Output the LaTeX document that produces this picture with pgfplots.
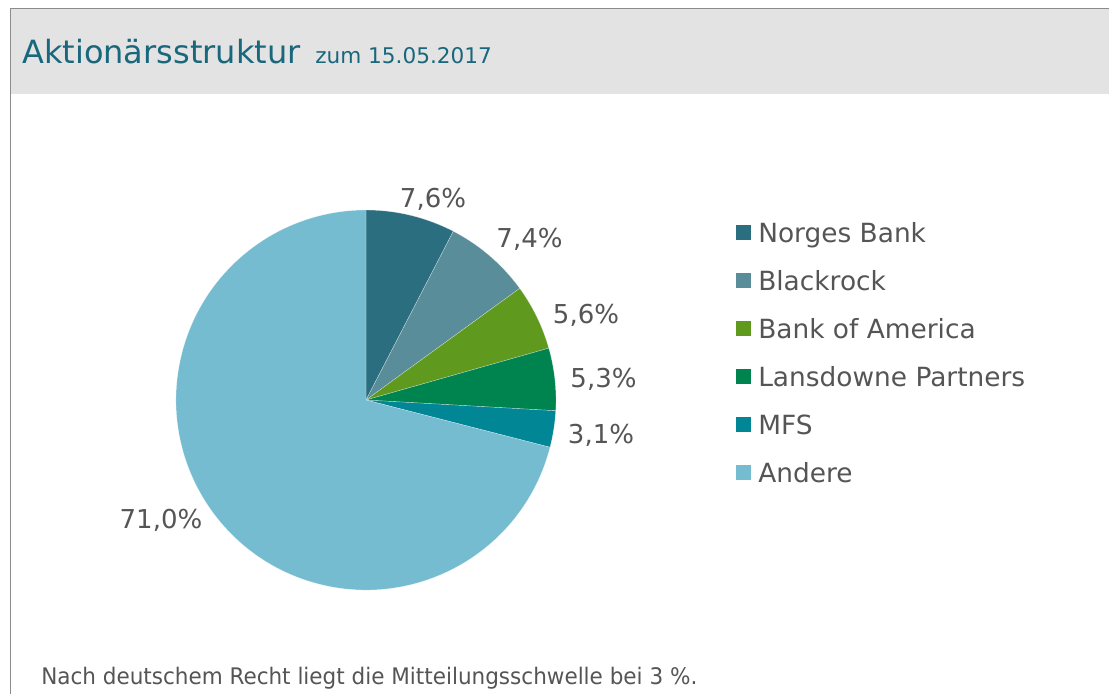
\documentclass[border=0pt]{standalone}
\usepackage{pgfplots}
\pgfplotsset{compat=1.18}
\usepackage{pgfplotstable}
\usepackage{graphicx}
\usepackage{fontspec}
\setmainfont{DejaVu Sans}
\newfontfamily\condfont{DejaVu Sans Condensed}
\definecolor{c0}{RGB}{43,110,128}
\definecolor{c1}{RGB}{90,141,154}
\definecolor{c2}{RGB}{95,154,31}
\definecolor{c3}{RGB}{0,132,79}
\definecolor{c4}{RGB}{0,134,148}
\definecolor{c5}{RGB}{117,188,209}
\definecolor{txt}{RGB}{85,85,85}
\definecolor{ttl}{RGB}{25,103,124}
\definecolor{hdr}{RGB}{227,227,227}
\definecolor{brd}{RGB}{140,140,140}
\pgfkeys{/pgf/number format/.cd, use comma, fixed, fixed zerofill, precision=1, assume math mode=true}
\pgfplotstableread[col sep=semicolon]{
name;value;lx;ly
Norges Bank;7.6;433;207
Blackrock;7.4;529.5;247
Bank of America;5.6;586;323
Lansdowne Partners;5.3;603.5;387
MFS;3.1;601;443
Andere;71.0;161;528
}\shares
\begin{document}
\begin{tikzpicture}
\begin{axis}[
  scale only axis, width=831.75pt, height=520.5pt,
  xmin=0, xmax=1109, ymin=0, ymax=694, y dir=reverse,
  axis lines=none, clip=false]
\path[use as bounding box] (axis cs:0,0) rectangle (axis cs:1109,694);
% frame and header
\fill[hdr] (axis cs:10.5,9) rectangle (axis cs:1109,94);
\draw[brd, line width=1pt] (axis cs:10.5,694) -- (axis cs:10.5,8.7) -- (axis cs:1109,8.7);
\node[anchor=base west, inner sep=0pt, text=ttl, font=\fontsize{24}{24}\selectfont] at (axis cs:22,63) {Aktionärsstruktur};
\node[anchor=base west, inner sep=0pt, text=ttl, font=\fontsize{16.2}{16.2}\selectfont] at (axis cs:315,63) {zum 15.05.2017};
% pie
\def\startang{90}
\pgfplotsforeachungrouped \i in {0,...,5}{
  \pgfplotstablegetelem{\i}{value}\of\shares \let\v=\pgfplotsretval
  \pgfmathsetmacro{\endang}{\startang-3.6*\v}
  \pgfplotstablegetelem{\i}{lx}\of\shares \let\lx=\pgfplotsretval
  \pgfplotstablegetelem{\i}{ly}\of\shares \let\ly=\pgfplotsretval
  \pgfplotstablegetelem{\i}{name}\of\shares \let\nm=\pgfplotsretval
  \pgfmathsetmacro{\sqtop}{225+48*\i}
  \pgfmathsetmacro{\sqbot}{240+48*\i}
  \pgfmathsetmacro{\base}{242+48*\i}
  \edef\temp{%
    \noexpand\fill[c\i, draw=white, draw opacity=0.5, line width=0.3pt, line join=round] (axis cs:366,400) -- ++(\startang:142.5pt) arc[start angle=\startang, end angle=\endang, radius=142.5pt] -- cycle;
    \noexpand\node[anchor=base, inner sep=0pt, text=txt, font=\noexpand\fontsize{19.5}{19.5}\noexpand\selectfont] at (axis cs:\lx,\ly) {\noexpand\pgfmathprintnumber{\v}\noexpand\%};
    \noexpand\fill[c\i] (axis cs:736,\sqtop) rectangle (axis cs:751,\sqbot);
    \noexpand\node[anchor=base west, inner sep=0pt, text=txt, font=\noexpand\fontsize{19.8}{19.8}\noexpand\selectfont] at (axis cs:758,\base) {\nm};
  }%
  \temp
  \global\let\startang=\endang
}
% footnote
\node[anchor=base west, inner sep=0pt, text=txt] at (axis cs:41,684.5) {\resizebox{492pt}{13pt}{\condfont Nach deutschem Recht liegt die Mitteilungsschwelle bei 3 \%.}};
\end{axis}
\end{tikzpicture}
\end{document}
